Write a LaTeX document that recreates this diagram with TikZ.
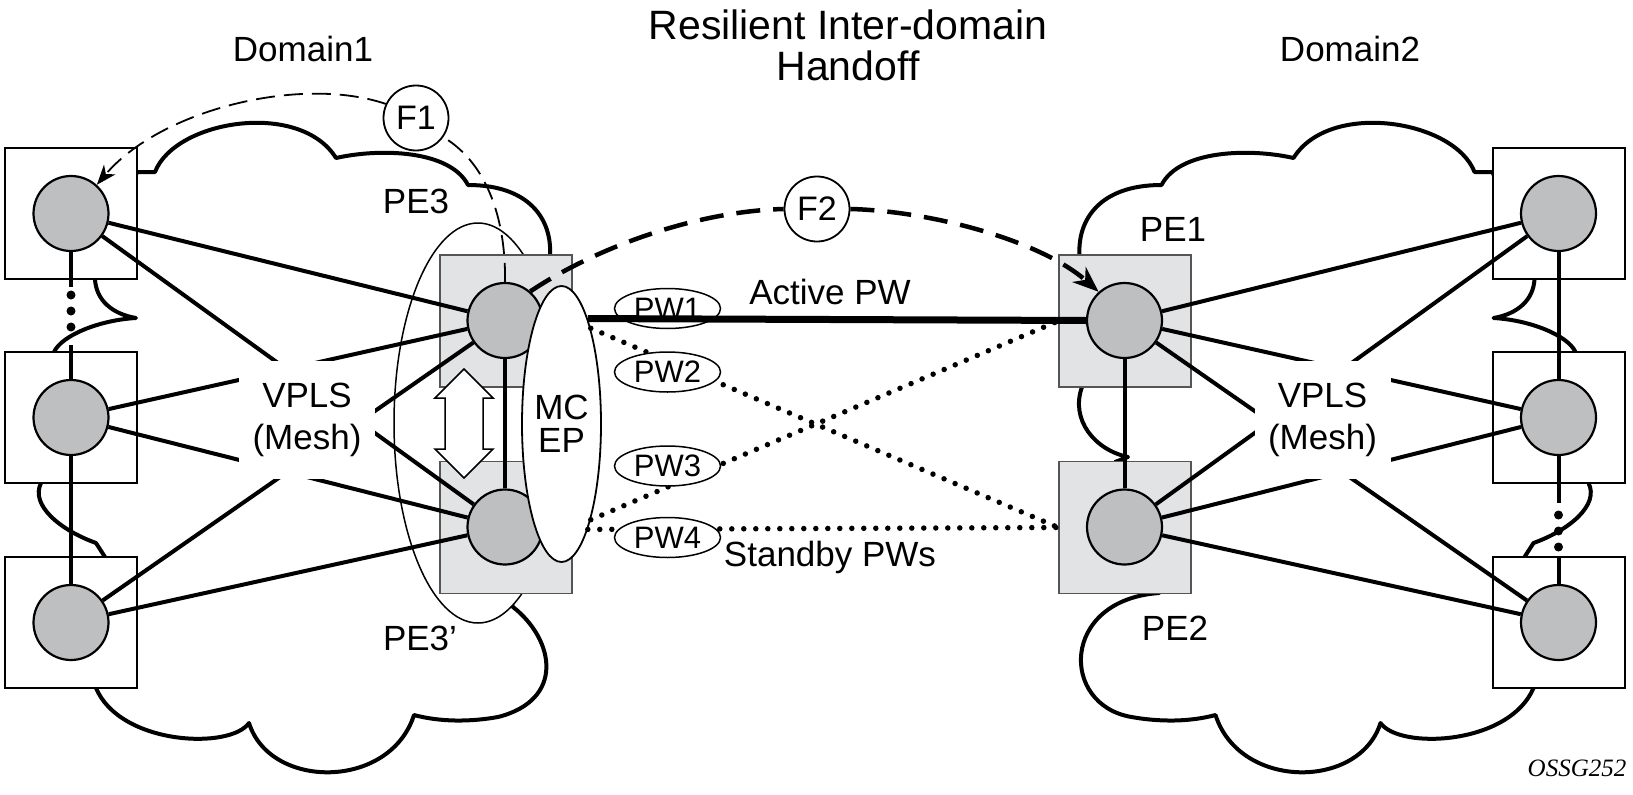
\documentclass[tikz,border=0pt]{standalone}
\usepackage{fontspec}
\setmainfont{Liberation Sans}
\newfontfamily\serifit{Liberation Serif}
\usetikzlibrary{arrows.meta,shapes.geometric}
\definecolor{boxgray}{HTML}{E2E3E4}
\definecolor{circgray}{HTML}{BEBFC1}
\definecolor{edgegray}{HTML}{555555}
\begin{document}
\begin{tikzpicture}[x=1pt,y=-1pt,
  cloudline/.style={line width=4pt, line join=round},
  wbox/.style={rectangle, draw=black, fill=white, line width=2pt, minimum width=132pt, minimum height=131pt, inner sep=0pt},
  gbox/.style={rectangle, draw=edgegray, fill=boxgray, line width=1.5pt, minimum width=132pt, minimum height=132pt, inner sep=0pt},
  dev/.style={circle, draw=black, fill=circgray, line width=2.2pt, minimum size=75pt, inner sep=0pt},
  mesh/.style={line width=4pt},
  dotline/.style={line width=5.5pt, line cap=round, dash pattern=on 0pt off 12pt},
  lbl/.style={font=\fontsize{35}{42}\selectfont, inner sep=0pt},
  titlelbl/.style={font=\fontsize{41}{47}\selectfont, inner sep=0pt, anchor=base},
  pwlbl/.style={ellipse, draw=black, fill=white, line width=1.5pt, minimum width=106pt, minimum height=40pt, inner sep=0pt, font=\fontsize{31}{36}\selectfont},
  fcirc/.style={circle, draw=black, fill=white, line width=1.8pt, minimum size=65pt, inner sep=0pt, font=\fontsize{34}{40}\selectfont},
  meshlbl/.style={rectangle, fill=white, minimum width=136pt, minimum height=118pt, inner sep=0pt, align=center, font=\fontsize{35}{42}\selectfont},
  fone/.style={line width=1.8pt, dash pattern=on 19pt off 9pt},
  ftwo/.style={line width=4.5pt, dash pattern=on 24pt off 13pt}
]
\useasboundingbox (0,0) rectangle (1633,795);

% clouds
\draw[cloudline] (137,172) -- (155,172)
  .. controls (175,120) and (300,100) .. (336,158)
  .. controls (380,148) and (450,150) .. (468,185)
  .. controls (530,185) and (552,220) .. (550,255)
  -- (555,400) -- (505,590) -- (513,607)
  .. controls (555,640) and (565,700) .. (498,717)
  .. controls (470,722) and (440,722) .. (414,715)
  .. controls (390,790) and (270,790) .. (249,723)
  .. controls (230,750) and (120,745) .. (96,688)
  -- (105,557) -- (96,543)
  .. controls (60,530) and (30,505) .. (41,483)
  -- (54,352)
  .. controls (62,335) and (100,320) .. (136,318)
  .. controls (112,314) and (96,300) .. (95,279) -- cycle;
\draw[cloudline] (1492.5,172) -- (1474.5,172)
  .. controls (1454.5,120) and (1329.5,100) .. (1293.5,158)
  .. controls (1249.5,148) and (1179.5,150) .. (1161.5,185)
  .. controls (1099.5,185) and (1077.5,220) .. (1079.5,255)
  -- (1082,387)
  .. controls (1070,420) and (1095,450) .. (1128,457) -- (1115,462)
  -- (1159,593)
  .. controls (1060,600) and (1060,705) .. (1131.5,717)
  .. controls (1159.5,722) and (1189.5,722) .. (1215.5,715)
  .. controls (1239.5,790) and (1359.5,790) .. (1380.5,723)
  .. controls (1399.5,750) and (1509.5,745) .. (1533.5,688)
  -- (1524.5,557) -- (1533.5,543)
  .. controls (1569.5,530) and (1599.5,505) .. (1588.5,483)
  -- (1575.5,352)
  .. controls (1567.5,335) and (1529.5,320) .. (1493.5,318)
  .. controls (1517.5,314) and (1533.5,300) .. (1534.5,279) -- cycle;

% PE3 group ellipse
\draw[line width=1.5pt, fill=white] (478,423) ellipse [x radius=84pt, y radius=200pt];

% boxes
\node[wbox] (bl1) at (71,213.5) {};
\node[wbox] (bl2) at (71,417.5) {};
\node[wbox] (bl3) at (71,622.5) {};
\node[wbox] (br1) at (1558.5,213.5) {};
\node[wbox] (br2) at (1558.5,417.5) {};
\node[wbox] (br3) at (1558.5,622.5) {};
\node[gbox] (bpe3) at (506,321) {};
\node[gbox] (bpe3p) at (506,527.5) {};
\node[gbox] (bpe1) at (1125,321) {};
\node[gbox] (bpe2) at (1125,527.5) {};

% devices
\node[dev] (l1c) at (71,213.5) {};
\node[dev] (l2c) at (71,417.5) {};
\node[dev] (l3c) at (71,622.5) {};
\node[dev] (r1c) at (1558.5,213.5) {};
\node[dev] (r2c) at (1558.5,417.5) {};
\node[dev] (r3c) at (1558.5,622.5) {};
\node[dev] (pe3c) at (505,320.5) {};
\node[dev] (pe3pc) at (505,527) {};
\node[dev] (pe1c) at (1124.5,320.5) {};
\node[dev] (pe2c) at (1124.5,527) {};

% mesh lines
\draw[mesh] (l1c) -- (pe3c);
\draw[mesh] (l1c) -- (pe3pc);
\draw[mesh] (l2c) -- (pe3c);
\draw[mesh] (l2c) -- (pe3pc);
\draw[mesh] (l3c) -- (pe3c);
\draw[mesh] (l3c) -- (pe3pc);
\draw[mesh] (pe1c) -- (r1c);
\draw[mesh] (pe1c) -- (r2c);
\draw[mesh] (pe1c) -- (r3c);
\draw[mesh] (pe2c) -- (r1c);
\draw[mesh] (pe2c) -- (r2c);
\draw[mesh] (pe2c) -- (r3c);
\draw[mesh] (l2c) -- (l3c);
\draw[mesh] (pe3c) -- (pe3pc);
\draw[mesh] (pe1c) -- (pe2c);
\draw[mesh] (r1c) -- (r2c);
% vertical links with dots
\coordinate (la) at (71,287);
\coordinate (lb) at (71,345);
\draw[mesh] (l1c) -- (la);
\draw[mesh] (lb) -- (l2c);
\fill (71,295) circle (4.5pt) (71,311) circle (4.5pt) (71,327) circle (4.5pt);
\coordinate (ra) at (1558.5,503);
\coordinate (rb) at (1558.5,557);
\draw[mesh] (r2c) -- (ra);
\draw[mesh] (rb) -- (r3c);
\fill (1558.5,515) circle (4.5pt) (1558.5,531) circle (4.5pt) (1558.5,547) circle (4.5pt);

% double arrow
\draw[line width=1.5pt, fill=white, line join=miter]
  (464,369) -- (493,398) -- (483,398) -- (483,449) -- (493,449) -- (464,478)
  -- (435,449) -- (445,449) -- (445,398) -- (435,398) -- cycle;

% VPLS labels
\node[meshlbl] (vplsl) at (307,420) {VPLS\\(Mesh)};
\node[meshlbl] (vplsr) at (1322.5,420) {VPLS\\(Mesh)};

% MC EP
\node[ellipse, draw=black, fill=white, line width=1.8pt, minimum width=79pt, minimum height=276pt, inner sep=0pt, align=center, font=\fontsize{35}{33}\selectfont] (mcep) at (561.5,424) {MC\\EP};

% standby PWs (dotted)
\draw[dotline] (mcep.73) -- (bpe2.west);
\draw[dotline] (mcep.-73) -- (bpe1.west);
\draw[dotline] (mcep.-76) -- (bpe2.west);

% PW labels
\node[pwlbl] (pw1) at (667.5,308.5) {PW1};
\node[pwlbl] (pw2) at (667.5,372) {PW2};
\node[pwlbl] (pw3) at (667.5,466) {PW3};
\node[pwlbl] (pw4) at (667.5,537.5) {PW4};

% active PW
\draw[line width=7pt] (mcep.76) -- (pe1c.west);

% F1, F2
\node[fcirc] (f1) at (416,118) {F1};
\node[fcirc] (f2) at (817,209) {F2};
\draw[fone] (pe3c.north) .. controls (506,225) and (490,165) .. (f1.-35);
\draw[fone, -{Stealth[length=20pt,width=15pt,inset=6pt]}] (f1.155) .. controls (300,75) and (160,110) .. (l1c.48);
\draw[ftwo] (pe3c.49) .. controls (600,245) and (700,211) .. (f2.west);
\draw[ftwo, -{Stealth[length=26pt,width=20pt,inset=8pt]}] (f2.east) .. controls (930,211) and (1040,240) .. (pe1c.132);

% text
\node[titlelbl] (title1) at (848,39) {Resilient Inter-domain};
\node[titlelbl] (title2) at (848,80) {Handoff};
\node[lbl] (dom1) at (303,49) {Domain1};
\node[lbl] (dom2) at (1350,49) {Domain2};
\node[lbl] (pe3t) at (416,201) {PE3};
\node[lbl] (pe3pt) at (420,638) {PE3’};
\node[lbl] (pe1t) at (1173,229) {PE1};
\node[lbl] (pe2t) at (1175,628) {PE2};
\node[lbl] (act) at (830,292) {Active PW};
\node[lbl] (stb) at (830,557) {Standby PWs};
\node[inner sep=0pt, font=\serifit\itshape\fontsize{25}{30}\selectfont] (ossg) at (1577,768) {OSSG252};
\end{tikzpicture}
\end{document}
